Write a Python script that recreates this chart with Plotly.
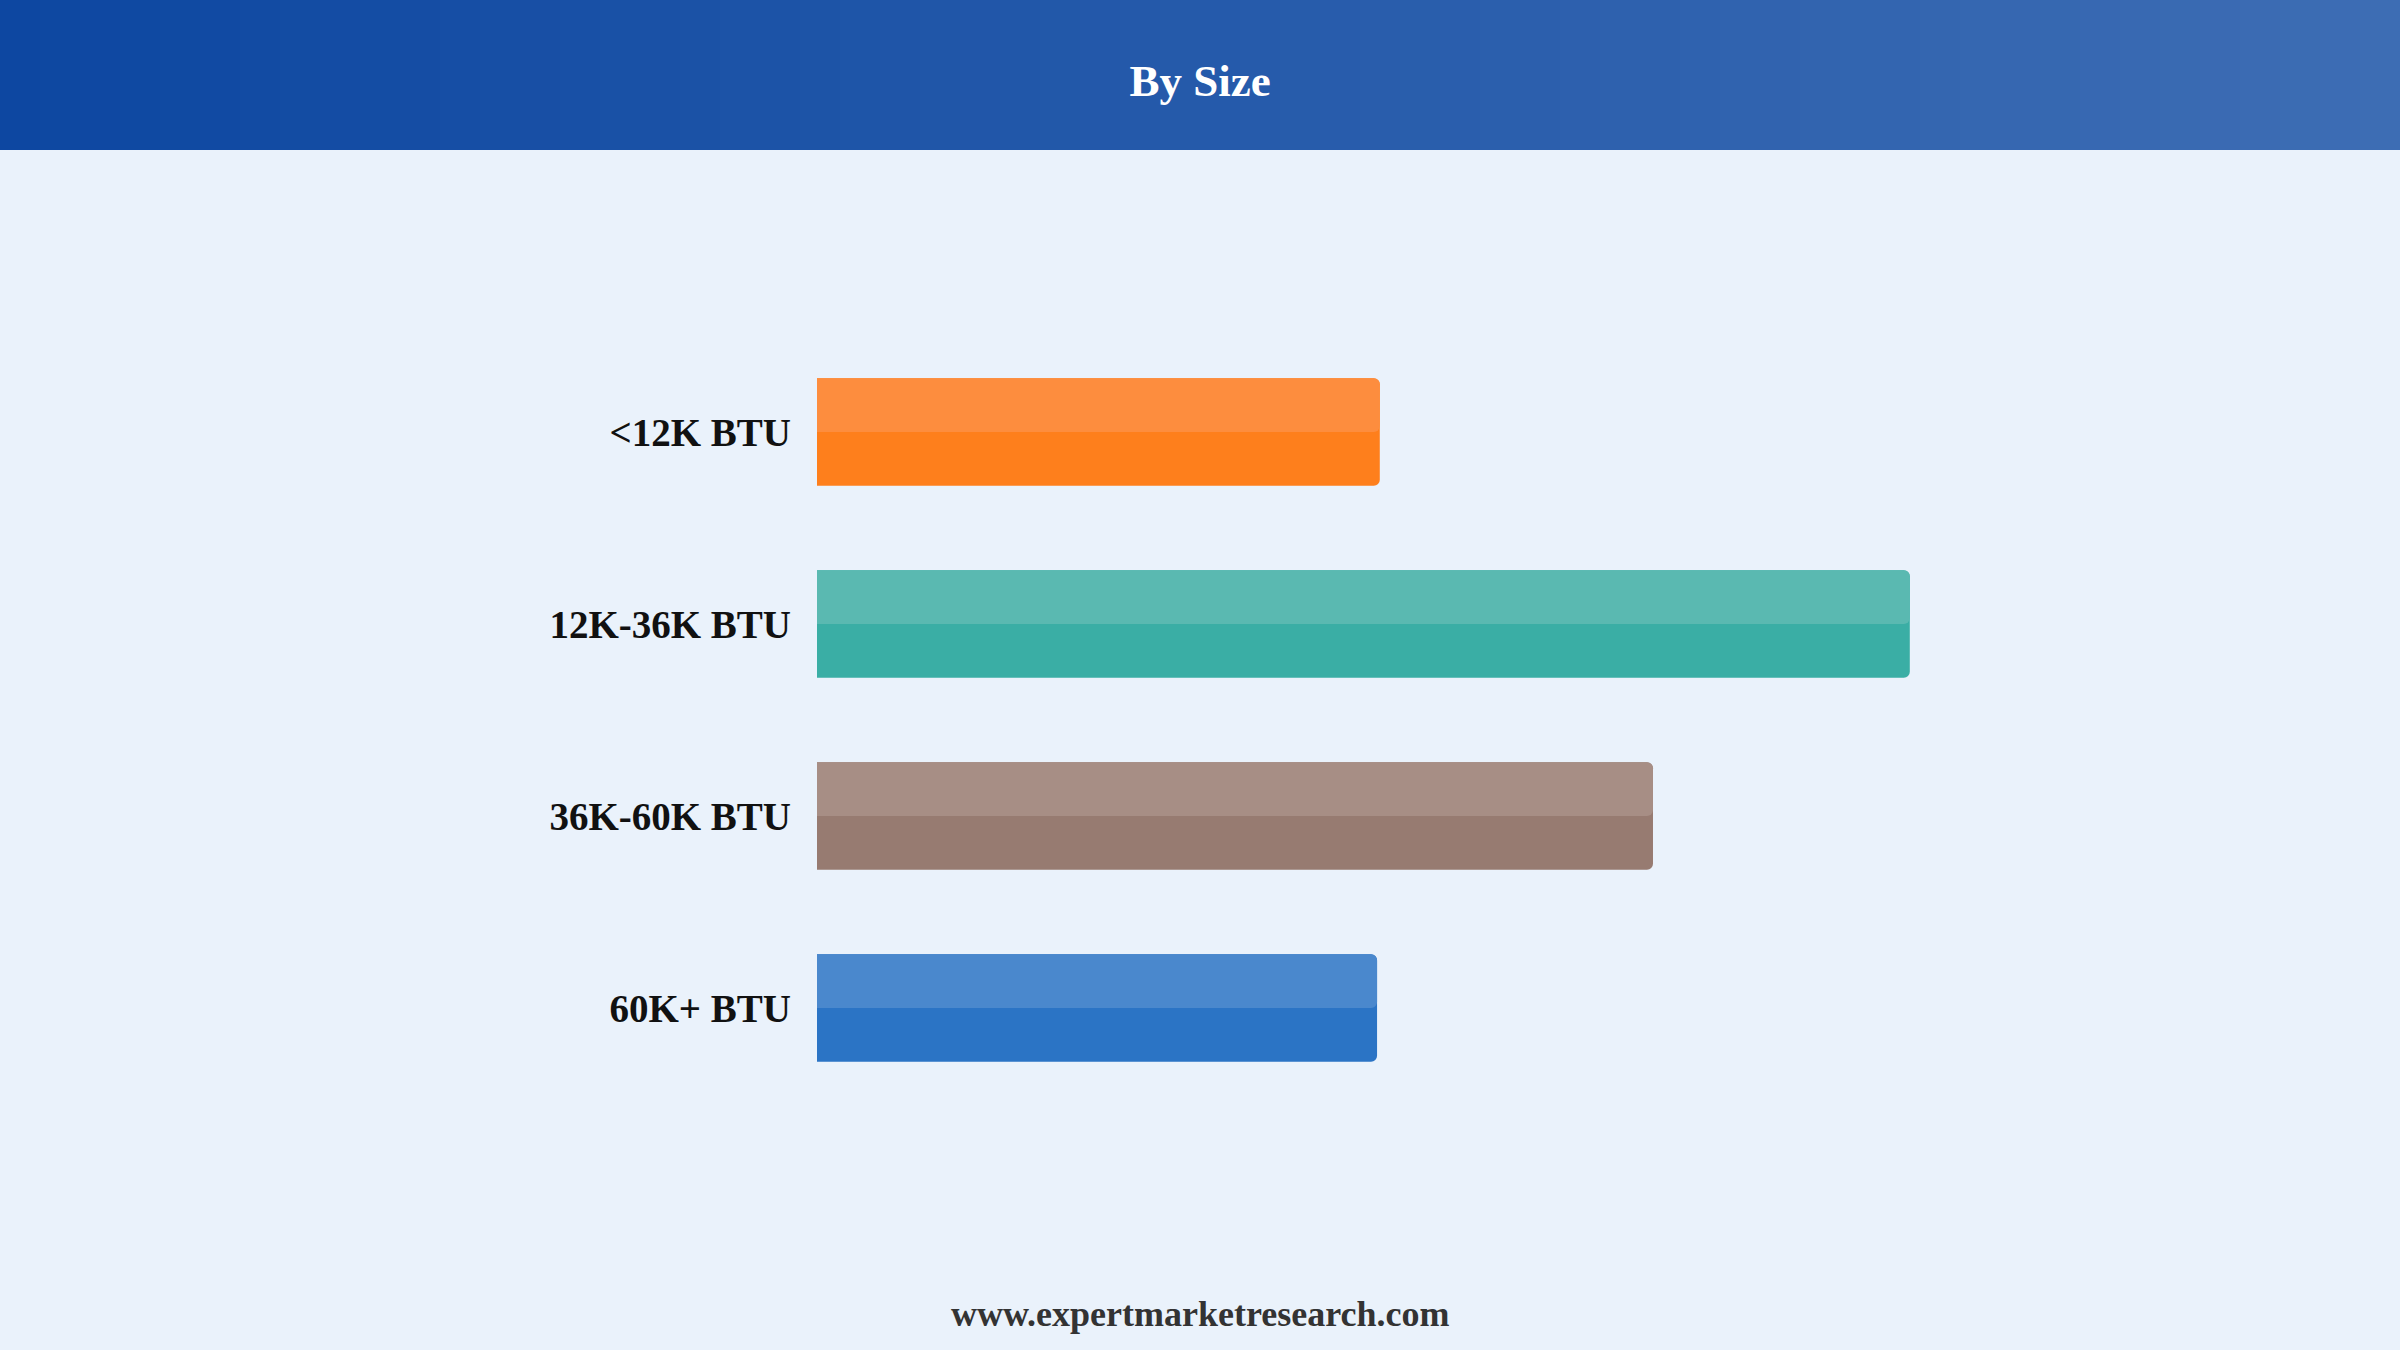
import plotly.graph_objects as go

# chart data
categories = ['<12K BTU', '12K-36K BTU', '36K-60K BTU', '60K+ BTU']
values = [20.6, 40.0, 30.6, 20.5]
base_colors = ['#fe7f1c', '#3aaea5', '#977b71', '#2b74c5']
top_colors = ['#fd8d3e', '#5ab9b1', '#a78e85', '#4a88cd']

title_text = 'By Size'
footer_text = 'www.expertmarketresearch.com'

# page geometry (pixels)
W, H = 2400, 1350
ML, MR, MT, MB = 817, 217, 336, 246
PLOT_W = W - ML - MR
PLOT_H = H - MT - MB
HEADER_H = 150
BG = '#eaf2fb'


def px_x(x):
    """pixel x (from left) -> paper x"""
    return (x - ML) / PLOT_W


def px_y(y):
    """pixel y (from top) -> paper y"""
    return (H - MB - y) / PLOT_H


def mix(c1, c2, t):
    a = [int(c1[i:i + 2], 16) for i in (1, 3, 5)]
    b = [int(c2[i:i + 2], 16) for i in (1, 3, 5)]
    return '#%02x%02x%02x' % tuple(round(a[k] + (b[k] - a[k]) * t) for k in range(3))


fig = go.Figure()

# full bar in base colour
fig.add_trace(go.Bar(
    y=categories, x=values, orientation='h',
    marker=dict(color=base_colors, cornerradius=6, line=dict(width=0)),
    width=0.56, hoverinfo='x+y', showlegend=False,
))

# lighter upper half
fig.add_trace(go.Bar(
    y=categories, x=values, orientation='h',
    marker=dict(color=top_colors, cornerradius=6, line=dict(width=0)),
    width=0.28, offset=-0.28, hoverinfo='skip', showlegend=False,
))

# header band, drawn as thin strips to fake the gradient
shapes = []
n_strips = 60
strip_w = W / n_strips
for i in range(n_strips):
    shapes.append(dict(
        type='rect', xref='paper', yref='paper', layer='below',
        x0=px_x(i * strip_w), x1=px_x((i + 1) * strip_w + 1),
        y0=px_y(HEADER_H), y1=px_y(0),
        fillcolor=mix('#0d47a1', '#3d6db4', i / (n_strips - 1)),
        line=dict(width=0),
    ))

fig.update_layout(
    width=W, height=H,
    margin=dict(l=ML, r=MR, t=MT, b=MB),
    paper_bgcolor=BG, plot_bgcolor=BG,
    barmode='overlay',
    shapes=shapes,
    title=dict(
        text=title_text, xref='container', yref='container',
        x=0.5, xanchor='center', y=1 - 80 / H, yanchor='middle',
        font=dict(family='Liberation Serif', size=45, color='white', weight='bold'),
    ),
    annotations=[dict(
        text=footer_text, xref='paper', yref='paper',
        x=px_x(W / 2), y=px_y(1314), xanchor='center', yanchor='middle',
        showarrow=False,
        font=dict(family='Liberation Serif', size=36, color='#333333', weight='bold'),
    )],
    xaxis=dict(visible=False, range=[0, 50], showgrid=False, zeroline=False),
    yaxis=dict(
        categoryorder='array', categoryarray=categories,
        range=[3.5, -0.5], showgrid=False, zeroline=False, showline=False,
        ticks='', ticklabelstandoff=25,
        tickfont=dict(family='Liberation Serif', size=39, color='#111111', weight='bold'),
    ),
)

# drop the default page margin so the figure sits flush in the window
fig.write_html('out.html', config={'displayModeBar': False},
               post_script="document.body.style.margin='0';")
